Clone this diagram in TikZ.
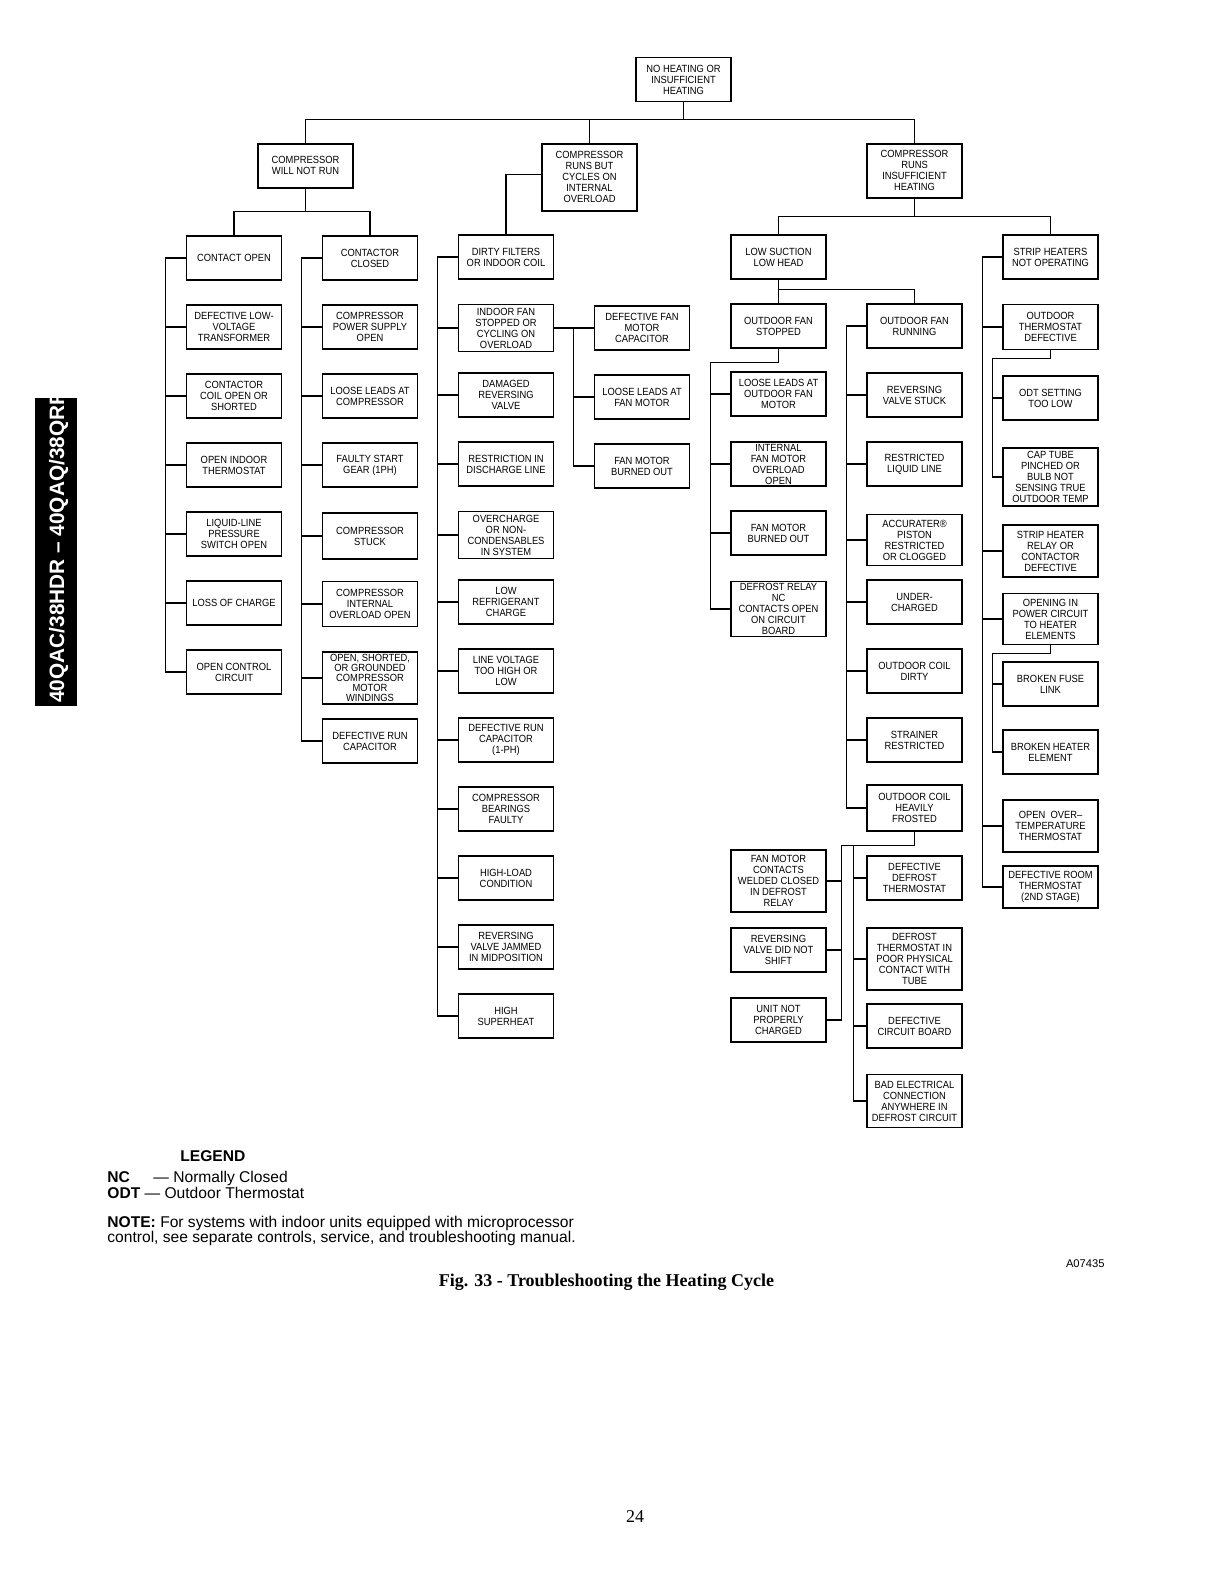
\documentclass[tikz,border=0pt]{standalone}
\usepackage{fontspec}
\setmainfont{Liberation Sans}
\newfontfamily\boxfont[FakeStretch=0.9]{Liberation Sans}
\newfontfamily\capfont{Liberation Serif}
\tikzset{
  box/.style={draw, line width=0.75pt, minimum width=47.5pt, minimum height=22pt,
    inner sep=1pt, align=center, font=\boxfont\fontsize{5.2}{5.5}\selectfont},
  tightbox/.style={box, font=\boxfont\fontsize{5.2}{4.9}\selectfont},
  link/.style={line width=0.55pt},
  legendtext/.style={anchor=base west, inner sep=0pt, font=\fontsize{7.8}{8}\selectfont},
}
\begin{document}
\begin{tikzpicture}[x=0.5pt, y=-0.5pt]
  \useasboundingbox (0,0) rectangle (1224,1584);
  \def\tick{20}
  % top of the tree
  \node[box] (top) at (683.5,79.5) {NO HEATING OR\\INSUFFICIENT\\HEATING};
  \node[box, anchor=north] (ca) at (305.5,143) {COMPRESSOR\\WILL NOT RUN};
  \node[box, anchor=north, minimum height=33.5pt] (cb) at (589.5,143) {COMPRESSOR\\RUNS BUT\\CYCLES ON\\INTERNAL\\OVERLOAD};
  \node[box, anchor=north, minimum height=27pt] (cc) at (914.5,143) {COMPRESSOR\\RUNS\\INSUFFICIENT\\HEATING};
  % compressor will not run
  \foreach \n/\y/\h/\t in {c1a/258/22/CONTACT OPEN, c1b/327/22/DEFECTIVE LOW-\\VOLTAGE\\TRANSFORMER,
      c1c/396/22/CONTACTOR\\COIL OPEN OR\\SHORTED, c1d/465/22/OPEN INDOOR\\THERMOSTAT,
      c1e/534/22/LIQUID-LINE\\PRESSURE\\SWITCH OPEN, c1f/603/22/LOSS OF CHARGE,
      c1g/672/22/OPEN CONTROL\\CIRCUIT} {
      \node[box, minimum height=\h pt] (\n) at (234,\y) {\t};
  }
  \foreach \n/\y/\h/\t in {c2a/258/22/CONTACTOR\\CLOSED, c2b/327/22/COMPRESSOR\\POWER SUPPLY\\OPEN,
      c2c/396/22/LOOSE LEADS AT\\COMPRESSOR, c2d/465/22/FAULTY START\\GEAR (1PH),
      c2e/536/23/COMPRESSOR\\STUCK, c2f/604/22.5/COMPRESSOR\\INTERNAL\\OVERLOAD OPEN,
      c2h/741/22/DEFECTIVE RUN\\CAPACITOR} {
      \node[box, minimum height=\h pt] (\n) at (370,\y) {\t};
  }
  \node[tightbox, minimum height=26pt] (c2g) at (370,678) {OPEN, SHORTED,\\OR GROUNDED\\COMPRESSOR\\MOTOR\\WINDINGS};
  % compressor runs but cycles
  \foreach \n/\y/\h/\t in {c3a/257/22/DIRTY FILTERS\\OR INDOOR COIL, c3b/328/23.5/INDOOR FAN\\STOPPED OR\\CYCLING ON\\OVERLOAD,
      c3c/395/22/DAMAGED\\REVERSING\\VALVE, c3d/464/22/RESTRICTION IN\\DISCHARGE LINE,
      c3e/535/23.5/OVERCHARGE\\OR NON-\\CONDENSABLES\\IN SYSTEM, c3f/602/22/LOW\\REFRIGERANT\\CHARGE,
      c3g/671/22/LINE VOLTAGE\\TOO HIGH OR\\LOW, c3h/740/22/DEFECTIVE RUN\\CAPACITOR\\(1-PH),
      c3i/809/22/COMPRESSOR\\BEARINGS\\FAULTY, c3j/878/22/HIGH-LOAD\\CONDITION,
      c3k/947/22/REVERSING\\VALVE JAMMED\\IN MIDPOSITION, c3l/1016/22/HIGH\\SUPERHEAT} {
      \node[box, minimum height=\h pt] (\n) at (506,\y) {\t};
  }
  \foreach \n/\y/\t in {f1/328/DEFECTIVE FAN\\MOTOR\\CAPACITOR, f2/397/LOOSE LEADS AT\\FAN MOTOR,
      f3/466/FAN MOTOR\\BURNED OUT} {
      \node[box] (\n) at (642,\y) {\t};
  }
  % compressor runs insufficient heating
  \foreach \n/\y/\h/\t in {r1/257/22/LOW SUCTION\\LOW HEAD, r2/326/22/OUTDOOR FAN\\STOPPED,
      r3/394/22/LOOSE LEADS AT\\OUTDOOR FAN\\MOTOR, r4/464/22/INTERNAL\\FAN MOTOR\\OVERLOAD\\OPEN,
      r5/533/22/FAN MOTOR\\BURNED OUT, r6/609/27/DEFROST RELAY\\NC\\CONTACTS OPEN\\ON CIRCUIT\\BOARD,
      d1/881/31/FAN MOTOR\\CONTACTS\\WELDED CLOSED\\IN DEFROST\\RELAY, d2/950/22/REVERSING\\VALVE DID NOT\\SHIFT,
      d3/1020/22/UNIT NOT\\PROPERLY\\CHARGED} {
      \node[box, minimum height=\h pt] (\n) at (778.5,\y) {\t};
  }
  \foreach \n/\y/\h/\t in {s1/326/22/OUTDOOR FAN\\RUNNING, s2/395/22/REVERSING\\VALVE STUCK,
      s3/464/22/RESTRICTED\\LIQUID LINE, s4/540/25.5/ACCURATER®\\PISTON\\RESTRICTED\\OR CLOGGED,
      s5/602/22/UNDER-\\CHARGED, s6/671/22/OUTDOOR COIL\\DIRTY, s7/740/22/STRAINER\\RESTRICTED,
      s8/808/23/OUTDOOR COIL\\HEAVILY\\FROSTED,
      e1/878/22/DEFECTIVE\\DEFROST\\THERMOSTAT, e2/959/31/DEFROST\\THERMOSTAT IN\\POOR PHYSICAL\\CONTACT WITH\\TUBE,
      e3/1026/22/DEFECTIVE\\CIRCUIT BOARD, e4/1101/26.5/BAD ELECTRICAL\\CONNECTION\\ANYWHERE IN\\DEFROST CIRCUIT} {
      \node[box, minimum height=\h pt] (\n) at (914.5,\y) {\t};
  }
  \foreach \n/\y/\h/\t in {h1/257/22/STRIP HEATERS\\NOT OPERATING, h2/327/22.5/OUTDOOR\\THERMOSTAT\\DEFECTIVE,
      h3/398/22/ODT SETTING\\TOO LOW, h4/477/29/CAP TUBE\\PINCHED OR\\BULB NOT\\SENSING TRUE\\OUTDOOR TEMP,
      h5/551/26/STRIP HEATER\\RELAY OR\\CONTACTOR\\DEFECTIVE, h6/619/25.5/OPENING IN\\POWER CIRCUIT\\TO HEATER\\ELEMENTS,
      h7/684/22/BROKEN FUSE\\LINK, h8/752/22/BROKEN HEATER\\ELEMENT,
      h9/826/26/OPEN\ \ OVER–\\TEMPERATURE\\THERMOSTAT, h10/887/21/DEFECTIVE ROOM\\THERMOSTAT\\(2ND STAGE)} {
      \node[box, minimum height=\h pt] (\n) at (1050.5,\y) {\t};
  }
  % connectors
  \draw[link] (top.south) -- ++(0,17) coordinate (j0);
  \draw[link] (ca.north) |- (j0) -| (cc.north);
  \draw[link] (cb.north) -- (cb.north |- j0);
  \draw[link] (ca.south) -- ++(0,23) coordinate (j1);
  \draw[link] (c1a.north) |- (j1) -| (c2a.north);
  \draw[link] ([yshift=1.5pt]cb.west) -| (c3a.north);
  \draw[link] (cc.south) -- ++(0,18) coordinate (j2);
  \draw[link] (r1.north) |- (j2) -| (h1.north);
  \draw[link] (r1.south) -- (r2.north);
  \draw[link] ([yshift=-5pt]r1.south) -| (s1.north);
  \foreach \a/\b in {c1a/c1g, c2a/c2h, c3a/c3l, s1/s8, h1/h10, f1/f3} {
      \draw[link] (\b.west) -- ++(-\tick,0) |- (\a.west); % spine
  }
  \foreach \n in {c1b,c1c,c1d,c1e,c1f,c2b,c2c,c2d,c2e,c2f,c2g,c3b,c3c,c3d,c3e,c3f,c3g,c3h,c3i,c3j,c3k,
      f2,r3,r4,r5,s2,s3,s4,s5,s6,s7,h2,h5,h6,h9} {
      \draw[link] (\n.west) -- ++(-\tick,0);
  }
  \draw[link] (c3b.east) -- (f1.west);
  \draw[link] (r6.west) -- ++(-\tick,0) |- ([yshift=-7pt]r2.south) -- (r2.south);
  \draw[link] (d3.east) -- ++(15,0) |- ([yshift=-7pt]s8.south) -- (s8.south);
  \draw[link] (e4.west) -- ++(-13,0) |- ([yshift=-7pt]s8.south);
  \foreach \n in {d1,d2} \draw[link] (\n.east) -- ++(15,0);
  \foreach \n in {e1,e2,e3} \draw[link] (\n.west) -- ++(-13,0);
  \draw[link] (h4.west) -- ++(-10,0) |- ([yshift=-4pt]h2.south) -- (h2.south);
  \draw[link] (h3.west) -- ++(-10,0);
  \draw[link] (h8.west) -- ++(-10,0) |- ([yshift=-4pt]h6.south) -- (h6.south);
  \draw[link] (h7.west) -- ++(-10,0);
  % side tab
  \fill[black] (35,398) rectangle (77,706);
  \begin{scope}
    \clip (35,398) rectangle (77,706);
    \node[rotate=90, anchor=base west, inner sep=0pt, text=white, font=\bfseries\fontsize{10.4}{12}\selectfont] (tab) at (64,703) {40QAC/38HDR – 40QAQ/38QRR};
  \end{scope}
  % legend and caption
  \node[legendtext, font=\bfseries\fontsize{7.8}{8}\selectfont] (legend) at (180,1161) {LEGEND};
  \node[legendtext] (nc) at (107,1182) {\textbf{NC}};
  \node[legendtext] (ncdef) at (153,1182) {— Normally Closed};
  \node[legendtext] (odt) at (107,1198) {\textbf{ODT} — Outdoor Thermostat};
  \node[legendtext] (note1) at (107,1227) {\textbf{NOTE:} For systems with indoor units equipped with microprocessor};
  \node[legendtext] (note2) at (107,1242) {control, see separate controls, service, and troubleshooting manual.};
  \node[anchor=base east, inner sep=0pt, font=\fontsize{5.6}{6}\selectfont] (figid) at (1105,1267) {A07435};
  \node[anchor=base, inner sep=0pt, font=\capfont\bfseries\fontsize{9}{10}\selectfont] (caption) at (606.5,1286) {Fig. 33 - Troubleshooting the Heating Cycle};
  \node[anchor=base, inner sep=0pt, font=\capfont\fontsize{9}{10}\selectfont] (page) at (635,1522) {24};
\end{tikzpicture}
\end{document}
